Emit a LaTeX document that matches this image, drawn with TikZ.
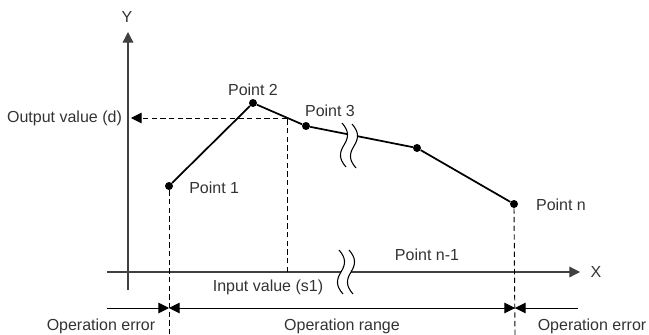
\documentclass[tikz,border=0pt]{standalone}
\usepackage{fontspec}
\setmainfont{Liberation Sans}
\usetikzlibrary{arrows.meta}

\tikzset{
  dot/.style={circle,fill=black,inner sep=0pt,minimum size=6pt},
  lbl/.style={inner sep=0pt,text=black!80,font=\fontsize{12}{14}\selectfont},
  axisline/.style={line width=0.9pt,draw=black!75},
  guide/.style={line width=0.7pt,dash pattern=on 4pt off 2.5pt},
  brk/.pic={\draw[line width=0.8pt] (-2,0) .. controls (5,8) and (5,14) .. (0,22)
    .. controls (-5,30) and (-5,36) .. (2,44);}
}

\begin{document}
\begin{tikzpicture}[x=0.75pt,y=-0.75pt,>={Triangle[length=8pt,width=8pt]}]
\useasboundingbox (0,0) rectangle (649,335);

% Axes
\coordinate (y0) at (128,290);
\coordinate (ytip) at (128,32);
\coordinate (x0) at (107,272);
\coordinate (xa) at (341,272);
\coordinate (xb) at (351,272);
\coordinate (xtip) at (580,272);
\draw[axisline,->] (y0) -- (ytip);
\draw[axisline] (x0) -- (xa);
\draw[axisline,->] (xb) -- (xtip);
\pic at (341,250) {brk};
\pic at (351,250) {brk};
\node[lbl] (ylab) at (127,17) {Y};
\node[lbl] (xlab) at (596,272) {X};

% Conversion points
\node[dot] (p1) at (169,186) {};
\node[dot] (p2) at (253,103) {};
\node[dot] (p3) at (306,126) {};
\node[dot] (p4) at (417,148) {};
\node[dot] (pn) at (514,204) {};
\coordinate (cut1) at (347.5,134.2);
\coordinate (cut2) at (357.5,136.2);
\draw[line width=1.3pt] (p1) -- (p2) -- (p3) -- (cut1);
\draw[line width=1.3pt] (cut2) -- (p4) -- (pn);
\pic at (344,123) {brk};
\pic at (354,124) {brk};

\node[lbl,anchor=west] (l1) at (189,188) {Point 1};
\node[lbl] (l2) at (253,90) {Point 2};
\node[lbl] (l3) at (330,111) {Point 3};
\node[lbl] (ln) at (561,205) {Point n};
\node[lbl] (lnm) at (427,255) {Point n-1};

% Input / output
\coordinate (s1) at (287,272);
\coordinate (d) at (287,118);
\coordinate (dtip) at (131,118);
\draw[guide] (s1) -- (d);
\draw[guide,->] (d) -- (dtip);
\node[lbl] (outlab) at (64.5,118) {Output value (d)};
\node[lbl] (inlab) at (268,287) {Input value (s1)};

% Operation range
\coordinate (gl) at (169,335);
\coordinate (gr) at (515,335);
\draw[guide] (p1.south) -- (gl);
\draw[guide] (pn.south) -- (gr);
\coordinate (el) at (107,308);
\coordinate (ml) at (169,308);
\coordinate (mr) at (515,308);
\coordinate (er) at (578,308);
\draw[line width=0.75pt,->] (el) -- (ml);
\draw[line width=0.75pt,<->] (ml) -- (mr);
\draw[line width=0.75pt,->] (er) -- (mr);
\node[lbl] (errl) at (101,326) {Operation error};
\node[lbl] (rng) at (342,326) {Operation range};
\node[lbl] (errr) at (592,326) {Operation error};

\end{tikzpicture}
\end{document}
